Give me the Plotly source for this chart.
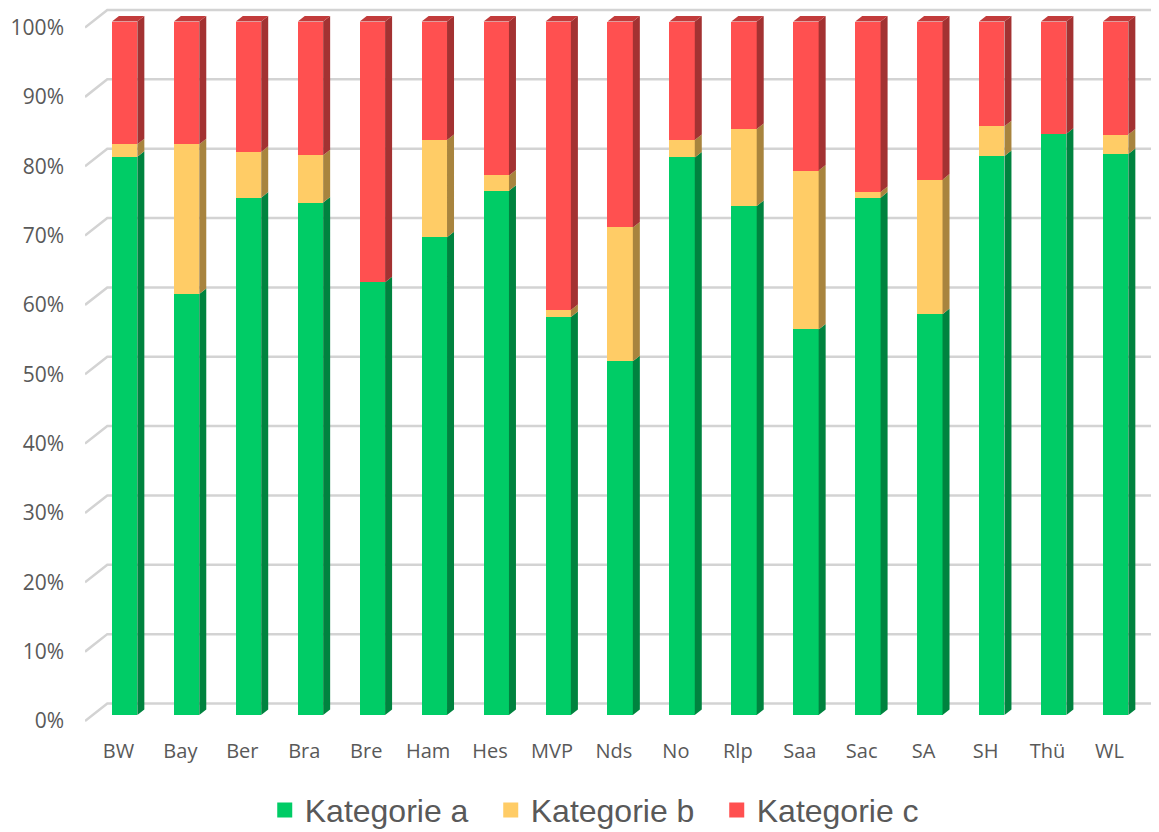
import plotly.graph_objects as go

# ---- data (shares in %) ----
cats = ["BW", "Bay", "Ber", "Bra", "Bre", "Ham", "Hes", "MVP", "Nds", "No",
        "Rlp", "Saa", "Sac", "SA", "SH", "Thü", "WL"]
kat_a = [80.5, 60.7, 74.6, 73.9, 62.4, 68.9, 75.6, 57.4, 51.0, 80.4,
         73.4, 55.6, 74.6, 57.8, 80.6, 83.8, 80.9]
kat_b = [1.8, 21.6, 6.6, 6.8, 0.0, 14.0, 2.2, 1.0, 19.3, 2.5,
         11.1, 22.9, 0.8, 19.4, 4.3, 0.0, 2.8]
kat_c = [17.7, 17.7, 18.8, 19.3, 37.6, 17.1, 22.2, 41.6, 29.7, 17.1,
         15.5, 21.5, 24.6, 22.8, 15.1, 16.2, 16.3]
series_names = ["Kategorie a", "Kategorie b", "Kategorie c"]
ytick_vals = list(range(0, 101, 10))
ytick_text = [f"{v}%" for v in ytick_vals]

# ---- styles ----
front_colors = ["#00CC66", "#FFCC66", "#FF5050"]
side_colors = ["#00833F", "#A8843E", "#A33232"]
top_colors = ["#00A050", "#C9A04E", "#C23B3B"]
grid_color = "#D3D3D3"
text_color = "#595959"

BAR_OFF = -0.105   # front face offset from category position
BAR_W = 0.41       # front face width (category units)
DX = 0.113         # depth offset x (category units)
DY = 0.8           # depth offset y (% units)
GRID_DY = 1.66     # back wall offset
GRID_LBL = -0.87   # floor front edge offset (where the labels sit)
X0, X1 = -0.54, 16.8
Y0, Y1 = -2.163, 101.95

series = [kat_a, kat_b, kat_c]
n = len(cats)
xpos = list(range(n))

fig = go.Figure()

# front faces
for vals, name, col in zip(series, series_names, front_colors):
    fig.add_trace(go.Bar(x=xpos, y=vals, name=name, marker_color=col,
                         marker_line_width=0, offset=BAR_OFF, width=BAR_W,
                         hoverinfo="skip", showlegend=False))

# side faces
base = [0.0] * n
for vals, scol in zip(series, side_colors):
    xs, ys = [], []
    for i in range(n):
        v = vals[i]
        if v <= 0:
            continue
        b0 = base[i]
        xr = i + BAR_OFF + BAR_W
        xs += [xr, xr + DX, xr + DX, xr, xr, None]
        ys += [b0, b0 + DY, b0 + v + DY, b0 + v, b0, None]
    fig.add_trace(go.Scatter(x=xs, y=ys, fill="toself", fillcolor=scol,
                             mode="lines", line_width=0, showlegend=False,
                             hoverinfo="skip"))
    base = [base[i] + vals[i] for i in range(n)]

# top faces (of topmost segment)
xs, ys = [], []
tcol = top_colors[2]
for i in range(n):
    top = base[i]
    xl = i + BAR_OFF
    xr = xl + BAR_W
    xs += [xl, xl + DX, xr + DX, xr, xl, None]
    ys += [top, top + DY, top + DY, top, top, None]
fig.add_trace(go.Scatter(x=xs, y=ys, fill="toself", fillcolor=tcol,
                         mode="lines", line_width=0, showlegend=False,
                         hoverinfo="skip"))

# legend entries (square markers)
for name, col in zip(series_names, front_colors):
    fig.add_trace(go.Scatter(x=[None], y=[None], mode="markers", name=name,
                             marker=dict(symbol="square", size=15, color=col),
                             showlegend=True))

# back wall gridlines with floor diagonals
shapes = []
for v in ytick_vals:
    path = (f"M {X0},{v + GRID_LBL} L {-0.18},{v + GRID_DY} "
            f"L {X1},{v + GRID_DY}")
    shapes.append(dict(type="path", path=path, xref="x", yref="y",
                       line=dict(color=grid_color, width=2.5), layer="below"))

# page body adds an 8px offset; figure sized to fill the window
fig.update_layout(
    width=1151, height=824,
    margin=dict(l=77, r=0, t=0, b=102, autoexpand=False),
    barmode="stack",
    plot_bgcolor="white", paper_bgcolor="white",
    shapes=shapes,
    xaxis=dict(range=[X0, X1], tickvals=xpos, ticktext=cats,
               showgrid=False, zeroline=False, showline=False, ticks="",
               tickfont=dict(family="Open Sans", size=20, color=text_color),
               ticklabelstandoff=7, automargin=False),
    yaxis=dict(range=[Y0, Y1],
               tickvals=[v + GRID_LBL for v in ytick_vals],
               ticktext=ytick_text,
               showgrid=False, zeroline=False, showline=False, ticks="",
               tickfont=dict(family="Open Sans", size=21, color=text_color),
               ticklabelstandoff=20, automargin=False),
    legend=dict(orientation="h", x=0.483, xanchor="center", y=-0.111,
                yanchor="middle", traceorder="normal", entrywidth=181,
                font=dict(family="Liberation Sans, Arial", size=32,
                          color=text_color)),
    showlegend=True,
)

fig.write_html("out.html")
